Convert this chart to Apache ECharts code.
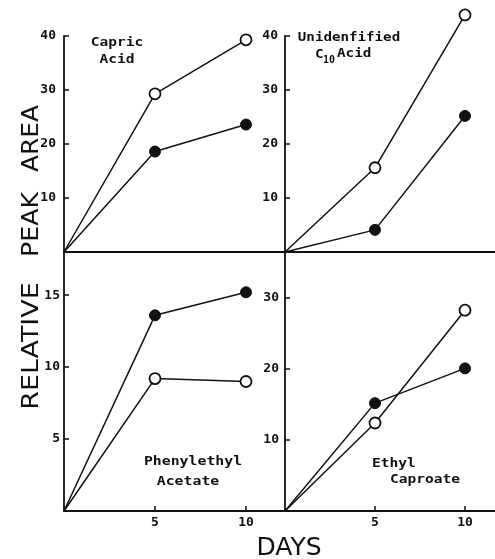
<!DOCTYPE html>
<html>
<head>
<meta charset="utf-8">
<script src="https://cdn.jsdelivr.net/npm/echarts@6/dist/echarts.min.js"></script>
<style>
  html, body { margin: 0; padding: 0; background: #fff; }
  #chart { width: 495px; height: 559px; }
</style>
</head>
<body>
<div id="chart"></div>
<script>
// Sampling days
const days = [0, 5, 10];

// Relative peak areas: open circles (○) and filled circles (●)
const capricOpen = [0, 29.3, 39.3];
const capricFilled = [0, 18.6, 23.6];
const c10Open = [0, 15.6, 43.9];
const c10Filled = [0, 4.1, 25.2];
const phenylOpen = [0, 9.2, 9.0];
const phenylFilled = [0, 13.6, 15.2];
const ethylOpen = [0, 12.4, 28.3];
const ethylFilled = [0, 15.2, 20.1];

// Tick labels
const topTicks = [10, 20, 30, 40];
const phenylTicks = [5, 10, 15];
const ethylTicks = [10, 20, 30];
const dayTicks = [5, 10];

const INK = '#111';
const MONO = '"DejaVu Sans Mono", monospace';

function pairs(ys) {
  return days.map((d, i) => ({
    value: [d, ys[i]],
    symbolSize: d === 0 ? 0 : 11
  }));
}

function line(idx, ys, open) {
  return {
    type: 'line',
    xAxisIndex: idx,
    yAxisIndex: idx,
    data: pairs(ys),
    clip: false,
    symbol: 'circle',
    lineStyle: { color: INK, width: 1.5 },
    itemStyle: open
      ? { color: '#fff', borderColor: INK, borderWidth: 1.8 }
      : { color: INK, borderColor: INK, borderWidth: 1 },
    emphasis: { disabled: true },
    animation: false,
    z: open ? 3 : 4
  };
}

function xAxis(idx, max, labelled) {
  return {
    type: 'value',
    gridIndex: idx,
    min: 0,
    max: max,
    axisLine: { show: true, lineStyle: { color: INK, width: 1.8 } },
    axisTick: labelled
      ? { show: true, inside: true, length: 5, customValues: dayTicks, lineStyle: { color: INK, width: 1.5 } }
      : { show: false },
    axisLabel: labelled
      ? { show: true, customValues: dayTicks, margin: 5, color: INK, fontFamily: MONO, fontWeight: 'bold', fontSize: 13 }
      : { show: false },
    splitLine: { show: false }
  };
}

function yAxis(idx, max, ticks, margin) {
  return {
    type: 'value',
    gridIndex: idx,
    min: 0,
    max: max,
    axisLine: { show: true, onZero: false, lineStyle: { color: INK, width: 1.8 } },
    axisTick: { show: true, inside: true, length: 5, customValues: ticks, lineStyle: { color: INK, width: 1.5 } },
    axisLabel: { show: true, customValues: ticks, margin: margin, color: INK, fontFamily: MONO, fontWeight: 'bold', fontSize: 13 },
    splitLine: { show: false }
  };
}

const titleFont = 'bold 13px ' + MONO;
const nameFont = '23px "DejaVu Sans"';

// Small helper for plain text annotations
function label(text, x, y, opts) {
  opts = opts || {};
  return {
    type: 'text', x: x, y: y,
    rotation: opts.rotation || 0,
    scaleX: opts.scaleX || 1,
    style: {
      text: text,
      font: opts.font || titleFont,
      fill: INK,
      align: opts.align || 'center',
      verticalAlign: 'middle'
    }
  };
}

const UP = Math.PI / 2;

const chart = echarts.init(document.getElementById('chart'), null, { renderer: 'canvas' });
chart.setOption({
  backgroundColor: '#fff',
  animation: false,
  grid: [
    { left: 64, top: 36, width: 221, height: 216 },
    { left: 285, top: 36, width: 210, height: 216 },
    { left: 64, top: 252, width: 221, height: 259 },
    { left: 285, top: 252, width: 210, height: 259 }
  ],
  xAxis: [
    xAxis(0, 221 / 18.2, false),
    xAxis(1, 210 / 18, false),
    xAxis(2, 221 / 18.2, true),
    xAxis(3, 210 / 18, true)
  ],
  yAxis: [
    yAxis(0, 40, topTicks, 8),
    yAxis(1, 40, topTicks, 7),
    yAxis(2, 18, phenylTicks, 4),
    yAxis(3, 36.5, ethylTicks, 6)
  ],
  series: [
    line(0, capricOpen, true),
    line(0, capricFilled, false),
    line(1, c10Open, true),
    line(1, c10Filled, false),
    line(2, phenylOpen, true),
    line(2, phenylFilled, false),
    line(3, ethylOpen, true),
    line(3, ethylFilled, false)
  ],
  graphic: [
    // Shared axis names
    label('RELATIVE', 32, 346, { rotation: UP, font: nameFont, scaleX: 1.17 }),
    label('PEAK', 32, 224.5, { rotation: UP, font: nameFont, scaleX: 1.1 }),
    label('AREA', 32, 138.5, { rotation: UP, font: nameFont, scaleX: 1.08 }),
    label('DAYS', 289, 548, { font: '25px "DejaVu Sans"' }),

    // Panel captions
    label('Capric', 117, 43, { scaleX: 1.12 }),
    label('Acid', 117, 60, { scaleX: 1.12 }),

    label('Unidenfified', 349, 38, { scaleX: 1.09 }),
    label('C', 315, 55, { align: 'left', scaleX: 1.1 }),
    label('10', 323, 60, { align: 'left', font: 'bold 10px ' + MONO }),
    label('Acid', 337, 54, { align: 'left', scaleX: 1.1 }),

    label('Phenylethyl', 193, 462, { scaleX: 1.14 }),
    label('Acetate', 188, 482, { scaleX: 1.14 }),

    label('Ethyl', 372, 464, { align: 'left', scaleX: 1.12 }),
    label('Caproate', 390, 480, { align: 'left', scaleX: 1.12 })
  ]
});
</script>
</body>
</html>
